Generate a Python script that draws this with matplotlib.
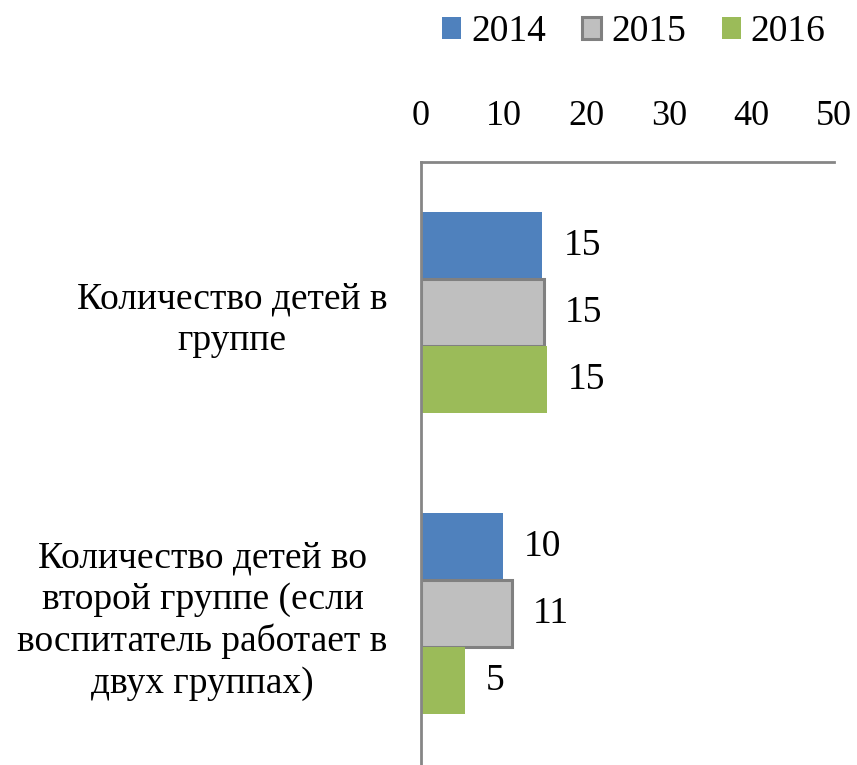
import matplotlib
matplotlib.use("Agg")
import matplotlib.pyplot as plt
import numpy as np

plt.rcParams['font.family'] = ['Liberation Serif', 'DejaVu Serif']

categories = ["Количество детей в\nгруппе",
              "Количество детей во\nвторой группе (если\nвоспитатель работает в\nдвух группах)"]
years = ["2014", "2015", "2016"]
values = {
    "2014": [14.7, 9.9],
    "2015": [14.9, 11.0],
    "2016": [15.3, 5.3],
}
labels = {
    "2014": ["15", "10"],
    "2015": ["15", "11"],
    "2016": ["15", "5"],
}
colors = {"2014": "#4F81BD", "2015": "#BFBFBF", "2016": "#9BBB59"}
edges = {"2014": "none", "2015": "#808080", "2016": "none"}
xticks = [0, 10, 20, 30, 40, 50]

fig = plt.figure(figsize=(8.57, 7.65), dpi=100)
ax = fig.add_axes([421/857, 0.0013, (834-421)/857, (764-162)/765])

y = np.arange(len(categories))
h = 0.222
for i, yr in enumerate(years):
    pos = y + (i - 1) * h
    bars = ax.barh(pos, values[yr], height=h, color=colors[yr],
                   edgecolor=edges[yr], linewidth=2.2 if edges[yr] != "none" else 0,
                   label=yr, zorder=2)
    for b, lab in zip(bars, labels[yr]):
        ax.annotate(lab, (b.get_width(), b.get_y() + b.get_height()/2),
                    xytext=(15, 0), textcoords="offset points",
                    ha="left", va="center", fontsize=27)

ax.set_xlim(0, 50)
ax.set_ylim(1.5, -0.5)
ax.set_xticks(xticks)
ax.xaxis.tick_top()
ax.tick_params(axis='x', length=0, pad=21, labelsize=26)
ax.set_yticks(y)
ax.set_yticklabels(categories, fontsize=27, multialignment='center', linespacing=1.25)
ax.tick_params(axis='y', length=0, pad=24)
for s in ['right', 'bottom']:
    ax.spines[s].set_visible(False)
for s in ['top', 'left']:
    ax.spines[s].set_color('#868686')
    ax.spines[s].set_linewidth(2)
ax.set_facecolor('none')

fig.legend(loc='center', bbox_to_anchor=(634/857, 1 - 32/765), ncol=3,
           frameon=False, fontsize=27, handlelength=0.5, handleheight=0.5,
           handletextpad=0.27, columnspacing=0.96)

fig.savefig("out.png", dpi=100)
